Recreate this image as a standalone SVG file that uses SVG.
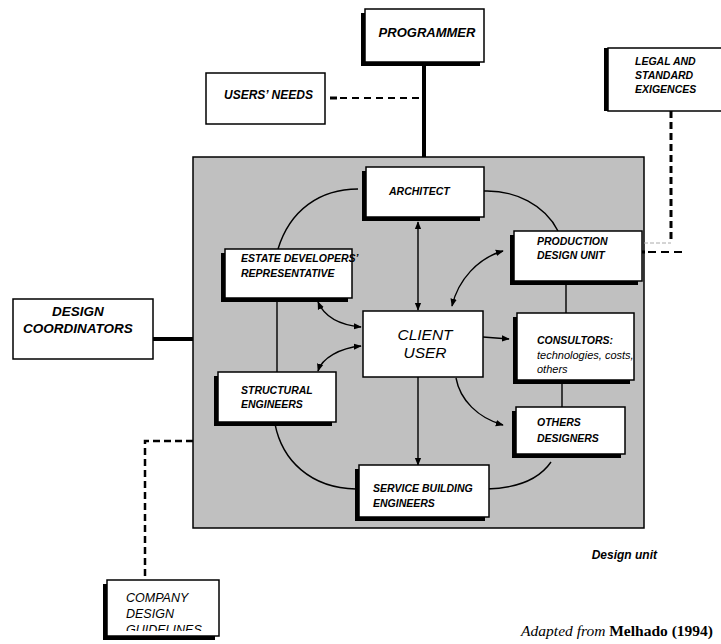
<svg xmlns="http://www.w3.org/2000/svg" width="721" height="644" viewBox="0 0 721 644">
<style>
.box{fill:#fff;stroke:#000;stroke-width:1.5}
.sh{fill:#000}
.lbl{font-family:"Liberation Sans",Arial,sans-serif;font-style:italic;font-weight:bold;font-size:10.5px;fill:#000}
.reg{font-weight:normal}
.ln{fill:none;stroke:#000;stroke-width:1.4}
.cv{fill:none;stroke:#000;stroke-width:1.4}
.thick{fill:none;stroke:#000;stroke-width:4}
.dash{fill:none;stroke:#000;stroke-width:2.5;stroke-dasharray:7 4}
</style>
<defs>
<marker id="ah" viewBox="0 0 10 10" refX="9" refY="5" markerWidth="8" markerHeight="8" markerUnits="userSpaceOnUse" orient="auto-start-reverse">
<path d="M0,1 L10,5 L0,9 z" fill="#000"/>
</marker>
<clipPath id="cc"><rect x="107" y="580" width="112" height="51"/></clipPath>
</defs>

<rect id="design-unit-area" x="193" y="157" width="451" height="371" fill="#c0c0c0" stroke="#000" stroke-width="1.5"/>

<g id="connectors">
<line class="thick" x1="424" y1="62" x2="424" y2="157"/>
<line class="thick" x1="153" y1="339" x2="193" y2="339"/>
<line x1="330" y1="98" x2="337" y2="98" stroke="#000" stroke-width="3"/>
<line x1="340" y1="98" x2="423" y2="98" stroke="#000" stroke-width="2" stroke-dasharray="7 5"/>
<line class="dash" x1="671" y1="111" x2="671" y2="243" style="stroke-width:3"/>
<line x1="644" y1="243" x2="671" y2="243" stroke="#aaa" stroke-width="1" stroke-dasharray="4 2"/>
<line x1="634" y1="252" x2="645" y2="252" stroke="#000" stroke-width="3"/>
<line x1="648" y1="252" x2="684" y2="252" stroke="#000" stroke-width="2" stroke-dasharray="8 5"/>
<polyline class="dash" points="193,441 145,441 145,580"/>
<path class="cv" d="M358,189 C320,189 290,210 278,249"/>
<path class="cv" d="M484,191 C515,190 545,205 558,231"/>
<line class="ln" x1="418" y1="222" x2="418" y2="310" marker-start="url(#ah)" marker-end="url(#ah)"/>
<path class="cv" d="M452,306 C458,280 478,258 503,251" marker-start="url(#ah)" marker-end="url(#ah)"/>
<line class="ln" x1="483" y1="337" x2="509" y2="339" marker-end="url(#ah)"/>
<path class="cv" d="M318,302 C325,318 340,325 361,327" marker-start="url(#ah)" marker-end="url(#ah)"/>
<path class="cv" d="M318,371 C322,358 340,348 361,346" marker-start="url(#ah)" marker-end="url(#ah)"/>
<line class="ln" x1="277" y1="298" x2="277" y2="372"/>
<path class="cv" d="M275,424 C282,460 310,488 356,489"/>
<line class="ln" x1="418" y1="377" x2="418" y2="465" marker-end="url(#ah)"/>
<path class="cv" d="M456,378 C460,400 478,418 503,425" marker-end="url(#ah)"/>
<line class="ln" x1="566" y1="281" x2="566" y2="313"/>
<line class="ln" x1="562" y1="381" x2="562" y2="407"/>
<path class="cv" d="M551,462 C540,478 520,488 487,489"/>
</g>

<g id="programmer">
<rect class="sh" x="361" y="13" width="119" height="53"/>
<rect class="box" x="365" y="9" width="119" height="53"/>
<text class="lbl" x="427" y="37" style="font-size:13px" text-anchor="middle">PROGRAMMER</text>
</g>

<g id="users-needs">
<rect class="box" x="206" y="73" width="119" height="51"/>
<text class="lbl" x="224" y="99" style="font-size:12px">USERS’ NEEDS</text>
</g>

<g id="legal">
<rect class="sh" x="604" y="48" width="130" height="63"/>
<rect class="box" x="608" y="48" width="130" height="63"/>
<text class="lbl" x="635" y="65">LEGAL AND</text>
<text class="lbl" x="635" y="79">STANDARD</text>
<text class="lbl" x="635" y="93">EXIGENCES</text>
</g>

<g id="design-coordinators">
<rect class="box" x="13" y="299" width="140" height="60"/>
<text class="lbl" x="78" y="316" style="font-size:13.5px" text-anchor="middle">DESIGN</text>
<text class="lbl" x="78" y="333" style="font-size:13.5px" text-anchor="middle">COORDINATORS</text>
</g>

<g id="architect">
<rect class="sh" x="362" y="171" width="118" height="50"/>
<rect class="box" x="366" y="167" width="118" height="50"/>
<text class="lbl" x="389" y="195">ARCHITECT</text>
</g>

<g id="estate">
<rect class="sh" x="221" y="253" width="127" height="49"/>
<rect class="box" x="225" y="249" width="127" height="49"/>
<text class="lbl" x="241" y="262">ESTATE DEVELOPERS’</text>
<text class="lbl" x="241" y="277">REPRESENTATIVE</text>
</g>

<g id="production">
<rect class="sh" x="510" y="235" width="128" height="50"/>
<rect class="box" x="514" y="231" width="128" height="50"/>
<text class="lbl" x="537" y="245">PRODUCTION</text>
<text class="lbl" x="537" y="259">DESIGN UNIT</text>
</g>

<g id="client">
<rect class="box" x="363" y="311" width="120" height="66"/>
<text class="lbl reg" x="425" y="340" style="font-size:15.5px" text-anchor="middle">CLIENT</text>
<text class="lbl reg" x="425" y="358" style="font-size:15.5px" text-anchor="middle">USER</text>
</g>

<g id="consultors">
<rect class="sh" x="513" y="317" width="117" height="67"/>
<rect class="box" x="517" y="313" width="117" height="67"/>
<text class="lbl" x="537" y="344">CONSULTORS:</text>
<text class="lbl reg" x="537" y="359" style="font-size:11px">technologies, costs,</text>
<text class="lbl reg" x="537" y="373" style="font-size:11px">others</text>
</g>

<g id="structural">
<rect class="sh" x="214" y="376" width="118" height="50"/>
<rect class="box" x="218" y="372" width="118" height="50"/>
<text class="lbl" x="241" y="394">STRUCTURAL</text>
<text class="lbl" x="241" y="408">ENGINEERS</text>
</g>

<g id="others">
<rect class="sh" x="512" y="411" width="109" height="47"/>
<rect class="box" x="516" y="407" width="109" height="47"/>
<text class="lbl" x="537" y="426">OTHERS</text>
<text class="lbl" x="537" y="442">DESIGNERS</text>
</g>

<g id="service">
<rect class="sh" x="355" y="469" width="130" height="52"/>
<rect class="box" x="359" y="465" width="130" height="52"/>
<text class="lbl" x="373" y="492">SERVICE BUILDING</text>
<text class="lbl" x="373" y="507">ENGINEERS</text>
</g>

<g id="company">
<rect class="sh" x="103" y="584" width="112" height="56"/>
<rect class="box" x="107" y="580" width="112" height="56"/>
<g clip-path="url(#cc)">
<text class="lbl reg" x="126" y="602" style="font-size:12.5px">COMPANY</text>
<text class="lbl reg" x="126" y="618" style="font-size:12.5px">DESIGN</text>
<text class="lbl reg" x="126" y="634" style="font-size:12.5px">GUIDELINES</text>
</g>
</g>

<text id="design-unit-label" class="lbl" x="657" y="559" style="font-size:12px" text-anchor="end">Design unit</text>
<text id="credit" x="713" y="636" font-family="'Liberation Serif','Times New Roman',serif" font-size="15.5" text-anchor="end"><tspan font-style="italic">Adapted from </tspan><tspan font-weight="bold">Melhado (1994)</tspan></text>
</svg>
